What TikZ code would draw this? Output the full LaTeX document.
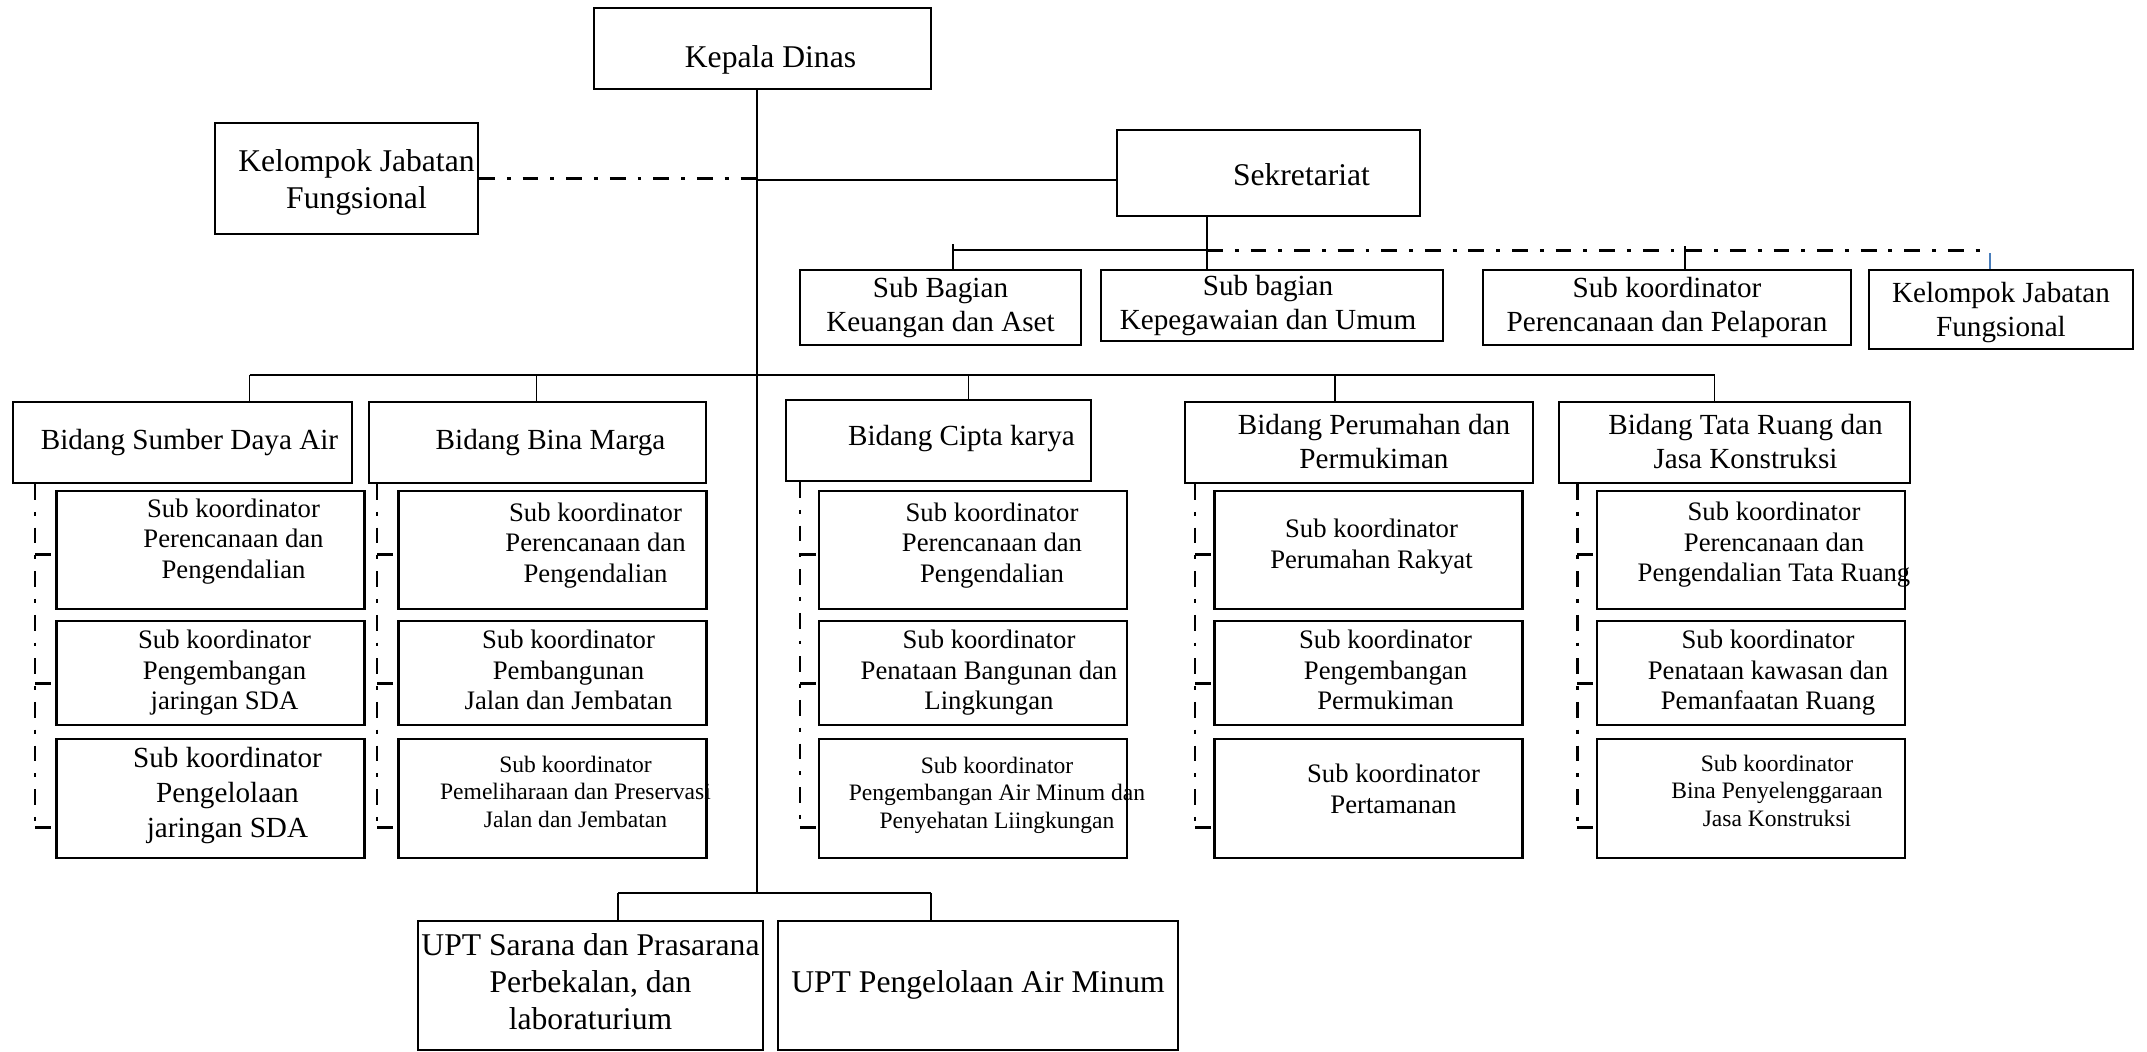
\documentclass[tikz,border=0pt]{standalone}
\usepackage{fontspec}
\setmainfont{Liberation Serif}
\usetikzlibrary{calc}
\definecolor{tickblue}{HTML}{4A7EBB}
% text block shifted inside its box (dx, raise, lines)
\newcommand{\tsh}[3]{\hspace*{#1}\raisebox{#2}[\height][\depth]{\begin{tabular}{@{}c@{}}#3\end{tabular}}\hspace*{-#1}}
\tikzset{
  oc/.style={draw, line width=0.6pt, inner sep=0pt},
  oc big/.style={oc, font=\fontsize{9}{10.4}\selectfont},
  oc mid/.style={oc, font=\fontsize{8.3}{9.6}\selectfont},
  oc sub/.style={oc, font=\fontsize{7.6}{8.7}\selectfont, minimum width=30.8mm},
  oc small/.style={oc, font=\fontsize{6.7}{7.8}\selectfont, minimum width=30.8mm},
  oc ln/.style={line width=0.45pt},
  oc dd/.style={line width=0.85pt, dash pattern=on 4.5pt off 3.4pt on 1.1pt off 3.4pt},
}

\begin{document}
\begin{tikzpicture}[x=0.1mm, y=-0.1mm,
  r1/.style={minimum height=11.8mm},
  r2/.style={minimum height=10.4mm},
  r3/.style={minimum height=11.9mm},
  bid/.style={oc mid, minimum height=8.1mm}]
  \useasboundingbox (0,0) rectangle (2147,1052);
  % head, functional group, secretariat
  \node[oc big, minimum width=33.7mm, minimum height=8.1mm] (kd) at (762.5,48.5) {\tsh{0.8mm}{-1.2mm}{Kepala Dinas}};
  \node[oc big, minimum width=26.3mm, minimum height=11.1mm] (kjf1) at (346.5,178.5) {\tsh{1mm}{-0.4mm}{Kelompok Jabatan\\Fungsional}};
  \node[oc big, minimum width=30.3mm, minimum height=8.6mm] (sek) at (1268.5,173) {\tsh{3.3mm}{-0.5mm}{Sekretariat}};
  % secretariat units
  \node[oc mid, minimum width=28.1mm, minimum height=7.5mm] (sbk) at (940.5,307.5) {\tsh{0mm}{0mm}{Sub Bagian\\Keuangan dan Aset}};
  \node[oc mid, minimum width=34.2mm, minimum height=7.1mm] (sbp) at (1272,305.5) {\tsh{-0.4mm}{0mm}{Sub bagian\\Kepegawaian dan Umum}};
  \node[oc mid, minimum width=36.8mm, minimum height=7.5mm] (skpp) at (1667,307.5) {\tsh{0mm}{0mm}{Sub koordinator\\Perencanaan dan Pelaporan}};
  \node[oc mid, minimum width=26.4mm, minimum height=7.9mm] (kjf2) at (2001,309.5) {\tsh{0mm}{-0.3mm}{Kelompok Jabatan\\Fungsional}};
  % fields
  \node[bid, minimum width=33.9mm] (bSDA) at (182.5,442.5) {\tsh{0.7mm}{0mm}{Bidang Sumber Daya Air}};
  \node[bid, minimum width=33.7mm] (bBM) at (537.5,442.5) {\tsh{1.3mm}{0mm}{Bidang Bina Marga}};
  \node[bid, minimum width=30.5mm] (bCK) at (938.5,440.5) {\tsh{2.3mm}{0.2mm}{Bidang Cipta karya}};
  \node[bid, minimum width=34.8mm] (bPP) at (1359,442.5) {\tsh{1.5mm}{-0.25mm}{Bidang Perumahan dan\\Permukiman}};
  \node[bid, minimum width=35.1mm] (bTR) at (1734.5,442.5) {\tsh{1.1mm}{-0.25mm}{Bidang Tata Ruang dan\\Jasa Konstruksi}};
  % sub coordinators, one column per field
  \node[oc sub, r1] (sda1) at (210.5,550) {\tsh{2.3mm}{0.85mm}{Sub koordinator\\Perencanaan dan\\Pengendalian}};
  \node[oc sub, r2] (sda2) at (210.5,673) {\tsh{1.4mm}{0mm}{Sub koordinator\\Pengembangan\\jaringan SDA}};
  \node[oc sub, r3, font=\fontsize{8.3}{10}\selectfont] (sda3) at (210.5,798.5) {\tsh{1.7mm}{0.3mm}{Sub koordinator\\Pengelolaan\\jaringan SDA}};
  \node[oc sub, r1] (bm1) at (552.5,550) {\tsh{4.3mm}{0.45mm}{Sub koordinator\\Perencanaan dan\\Pengendalian}};
  \node[oc sub, r2] (bm2) at (552.5,673) {\tsh{1.6mm}{0mm}{Sub koordinator\\Pembangunan\\Jalan dan Jembatan}};
  \node[oc small, r3] (bm3) at (552.5,798.5) {\tsh{2.3mm}{0.4mm}{Sub koordinator\\Pemeliharaan dan Preservasi\\Jalan dan Jembatan}};
  \node[oc sub, r1] (ck1) at (973,550) {\tsh{1.9mm}{0.45mm}{Sub koordinator\\Perencanaan dan\\Pengendalian}};
  \node[oc sub, r2] (ck2) at (973,673) {\tsh{1.6mm}{0mm}{Sub koordinator\\Penataan Bangunan dan\\Lingkungan}};
  \node[oc small, r3] (ck3) at (973,798.5) {\tsh{2.4mm}{0.3mm}{Sub koordinator\\Pengembangan Air Minum dan\\Penyehatan Liingkungan}};
  \node[oc sub, r1] (pp1) at (1368.5,550) {\tsh{0.3mm}{0.3mm}{Sub koordinator\\Perumahan Rakyat}};
  \node[oc sub, r2] (pp2) at (1368.5,673) {\tsh{1.7mm}{0mm}{Sub koordinator\\Pengembangan\\Permukiman}};
  \node[oc sub, r3] (pp3) at (1368.5,798.5) {\tsh{2.5mm}{0.65mm}{Sub koordinator\\Pertamanan}};
  \node[oc sub, r1] (tr1) at (1751,550) {\tsh{2.3mm}{0.5mm}{Sub koordinator\\Perencanaan dan\\Pengendalian Tata Ruang}};
  \node[oc sub, r2] (tr2) at (1751,673) {\tsh{1.7mm}{0mm}{Sub koordinator\\Penataan kawasan dan\\Pemanfaatan Ruang}};
  \node[oc small, r3] (tr3) at (1751,798.5) {\tsh{2.6mm}{0.5mm}{Sub koordinator\\Bina Penyelenggaraan\\Jasa Konstruksi}};
  % technical units
  \node[oc big, minimum width=34.5mm, minimum height=12.9mm, font=\fontsize{9}{10.5}\selectfont] (upt1) at (590.5,985.5) {\tsh{0mm}{0mm}{UPT Sarana dan Prasarana\\Perbekalan, dan\\laboraturium}};
  \node[oc big, minimum width=40mm, minimum height=12.9mm] (upt2) at (978,985.5) {\tsh{0mm}{0mm}{UPT Pengelolaan Air Minum}};
  % trunk and the branch to the secretariat
  \coordinate (j1) at (757,180);
  \coordinate (bb) at (757,375);
  \coordinate (ub) at (757,893);
  \draw[oc ln] (kd.south -| ub) -- (ub);
  \draw[oc ln] (j1) -- (j1 -| sek.west);
  \draw[oc dd] (kjf1.east) -- (kjf1.east -| j1);
  % secretariat bus
  \coordinate (sb0) at (953,250);
  \coordinate (sb1) at (1207,250);
  \coordinate (sb2) at (1685,250);
  \coordinate (sb3) at (1990,250);
  \draw[oc ln] (sb0) -- (sb1);
  \draw[oc dd] (sb1) -- (sb3);
  \draw[oc ln] (sb1 |- sek.south) -- (sb1 |- sbp.north);
  \draw[oc ln] (sb0) ++(0,-6) -- (sb0 |- sbk.north);
  \draw[oc ln] (sb2) ++(0,-4) -- (sb2 |- skpp.north);
  \draw[oc ln, tickblue] (sb3) ++(0,3) -- (sb3 |- kjf2.north);
  % fields bus
  \foreach \n/\d in {bSDA/67, bBM/-1, bCK/30, bPP/-24, bTR/-20}
    \draw[oc ln] ([xshift=\d*0.1mm]\n.north) coordinate (\n-s) -- (\n-s |- bb);
  \draw[oc ln] (bSDA-s |- bb) -- (bTR-s |- bb);
  % brackets from each field to its sub coordinators
  \foreach \b/\c/\x in {bSDA/sda/35, bBM/bm/377, bCK/ck/800, bPP/pp/1195, bTR/tr/1577} {
    \draw[oc dd] (\x,0 |- \b.south) -- (\x,827);
    \foreach \i/\y in {1/554, 2/683, 3/827}
      \draw[oc dd] (\x,\y) -- (\x,\y -| \c\i.west);
  }
  % technical units bus
  \foreach \n/\d in {upt1/27.5, upt2/-47}
    \draw[oc ln] ([xshift=\d*0.1mm]\n.north) coordinate (\n-s) -- (\n-s |- ub);
  \draw[oc ln] (upt1-s |- ub) -- (upt2-s |- ub);
\end{tikzpicture}
\end{document}
